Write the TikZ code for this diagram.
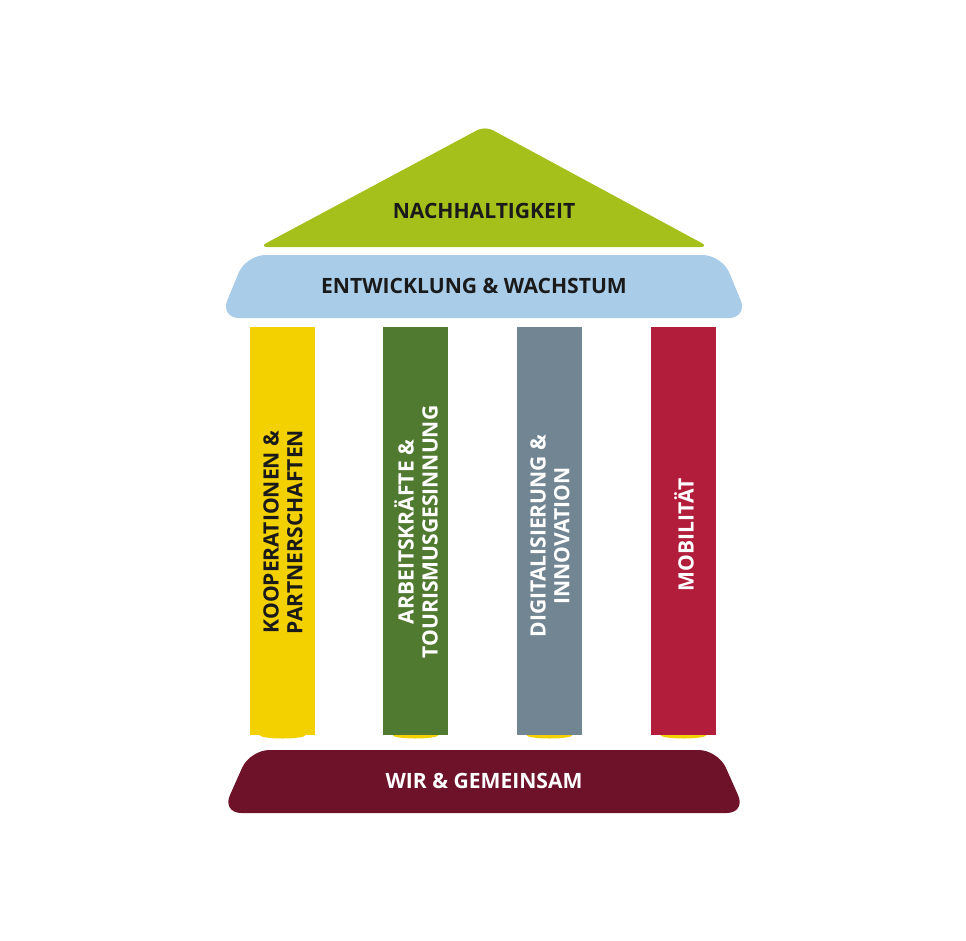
\documentclass[tikz,border=0pt]{standalone}
\usepackage{fontspec}
\setmainfont{Open Sans}
\definecolor{roofgreen}{HTML}{A5BF1B}
\definecolor{bandblue}{HTML}{A9CDE9}
\definecolor{pyellow}{HTML}{F3D100}
\definecolor{pgreen}{HTML}{517A31}
\definecolor{pgray}{HTML}{718592}
\definecolor{pred}{HTML}{B11D3B}
\definecolor{basered}{HTML}{6E1229}
\definecolor{darktext}{HTML}{1A1A1A}
\tikzset{
  lbl/.style={font=\bfseries\fontsize{12}{13.6}\selectfont, align=center},
  pillarlbl/.style={lbl, rotate=90},
}
\begin{document}
\begin{tikzpicture}[x=0.02cm,y=-0.02cm,line join=round]
				\useasboundingbox (0,0) rectangle (966,940);
				% roof
				\fill[roofgreen,rounded corners=5pt] (259,247)--(485,126)--(709,247)--cycle;
				\node[lbl,text=darktext] (roof) at (484,211) {NACHHALTIGKEIT};
				% beam
				\fill[bandblue,rounded corners=11pt] (246,255)--(722,255)--(748,318)--(220,318)--cycle;
				\node[lbl,text=darktext] (beam) at (474,286) {ENTWICKLUNG \& WACHSTUM};
				% little feet below the pillars
				\fill[pyellow] (282.5,735) ellipse (23 and 3.5);
				\fill[pyellow] (415.5,735) ellipse (23 and 3.5);
				\fill[pyellow] (549.5,735) ellipse (23 and 3.5);
				\fill[pyellow] (683.5,735) ellipse (23 and 3.5);
				% pillars
				\fill[pyellow] (250,327) rectangle (315,735);
				\fill[pgreen] (383,327) rectangle (448,735);
				\fill[pgray] (517,327) rectangle (582,735);
				\fill[pred] (651,327) rectangle (716,735);
				\node[pillarlbl,text=darktext] (koop) at (283,532) {KOOPERATIONEN \&\\PARTNERSCHAFTEN};
				\node[pillarlbl,text=white] (arbeit) at (416,532) {ARBEITSKRÄFTE \&\\TOURISMUSGESINNUNG};
				\node[pillarlbl,text=white] (digi) at (550,536) {DIGITALISIERUNG \&\\INNOVATION};
				\node[pillarlbl,text=white] (mobil) at (684,535) {MOBILITÄT};
				% base
				\fill[basered,rounded corners=11pt] (250,750)--(718,750)--(746,813)--(222,813)--cycle;
				\node[lbl,text=white] (base) at (484,781) {WIR \& GEMEINSAM};
			\end{tikzpicture}
\end{document}
